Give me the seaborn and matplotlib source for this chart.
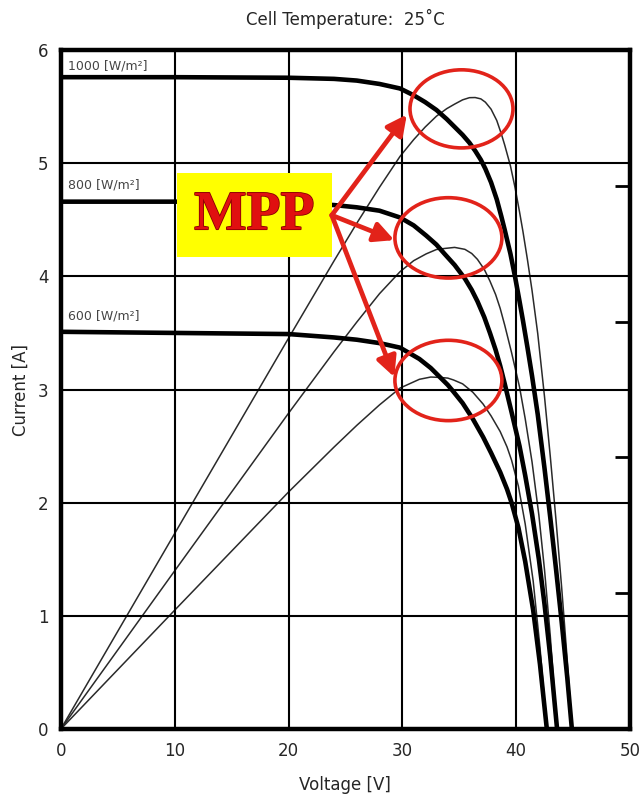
import numpy as np
import pandas as pd
import matplotlib.pyplot as plt
import matplotlib.patheffects as pe
import seaborn as sns
from matplotlib.patches import Ellipse, Rectangle

sns.set_style("white")
plt.rcParams['font.family'] = ['DejaVu Sans']

# I-V curves (Voltage in V, Current in A)
irradiance = ["1000 [W/m²]", "800 [W/m²]", "600 [W/m²]"]

v_1000 = [0, 10, 20, 24, 26, 28, 29.8, 31.0, 32.0, 33.0, 33.9, 34.6, 35.3, 35.9, 36.4, 36.9,
          37.3, 37.8, 38.3, 38.7, 39.0, 39.5, 39.9, 40.3, 40.6, 41.0, 41.4, 41.9, 42.5, 43.0,
          43.5, 44.0, 44.5, 44.9]
i_1000 = [5.76, 5.76, 5.755, 5.745, 5.73, 5.70, 5.66, 5.60, 5.54, 5.47, 5.39, 5.32, 5.25, 5.18,
          5.11, 5.03, 4.95, 4.83, 4.68, 4.53, 4.41, 4.20, 4.00, 3.78, 3.61, 3.37, 3.12, 2.78,
          2.30, 1.87, 1.42, 0.95, 0.45, 0.0]

v_800 = [0, 10, 20, 24, 26, 28, 29.8, 31.0, 32.1, 33.0, 33.7, 34.6, 35.5, 36.1, 36.6, 37.2,
         37.7, 38.2, 38.6, 39.0, 39.6, 40.3, 40.8, 41.4, 42.0, 42.5, 43.0, 43.6]
i_800 = [4.66, 4.66, 4.65, 4.63, 4.61, 4.58, 4.52, 4.45, 4.36, 4.28, 4.20, 4.10, 3.98, 3.88,
         3.78, 3.64, 3.50, 3.35, 3.21, 3.05, 2.80, 2.50, 2.24, 1.90, 1.50, 1.10, 0.64, 0.0]

v_600 = [0, 10, 20, 24, 26, 28, 29.8, 31.5, 32.5, 33.3, 34.0, 34.5, 35.3, 36.2, 37.1, 37.8,
         38.6, 39.2, 39.6, 40.2, 40.8, 41.5, 42.1, 42.7]
i_600 = [3.51, 3.50, 3.49, 3.46, 3.44, 3.41, 3.37, 3.27, 3.19, 3.11, 3.04, 2.98, 2.88, 2.74,
         2.58, 2.44, 2.27, 2.12, 2.00, 1.78, 1.48, 1.05, 0.57, 0.0]

label_y = [5.86, 4.81, 3.65]

# MPP annotation
mpp_centers = [(35.2, 5.48), (34.05, 4.34), (34.05, 3.08)]
mpp_sizes = [(9.05, 0.69), (9.4, 0.71), (9.4, 0.71)]
arrow_tips = [(30.4, 5.43), (29.3, 4.32), (29.3, 3.11)]
arrow_start = (23.8, 4.54)

frames = []
for name, v, i in zip(irradiance, [v_1000, v_800, v_600], [i_1000, i_800, i_600]):
    d = pd.DataFrame({"Voltage": v, "Current": i, "irr": name})
    d["Power"] = d["Voltage"] * d["Current"]
    frames.append(d)
df = pd.concat(frames, ignore_index=True)

fig = plt.figure(figsize=(6.41, 7.99), dpi=100)
ax = fig.add_axes([0.095, 0.0876, 0.8877, 0.8498])
ax2 = ax.twinx()

red = "#e2231a"

# thin P-V curves on the (cropped) power axis
sns.lineplot(data=df, x="Voltage", y="Power", hue="irr", palette=["#2a2a2a"] * 3,
             lw=1.1, legend=False, ax=ax2, estimator=None, sort=False)
ax2.set_ylim(0, 200)
ax2.set_yticks([40, 80, 120, 160])
ax2.tick_params(axis="y", direction="in", length=11, width=2, labelright=False, color="black")
for s in ax2.spines.values():
    s.set_visible(False)
ax2.set_ylabel("")

# thick I-V curves
sns.lineplot(data=df, x="Voltage", y="Current", hue="irr", palette=["black"] * 3,
             lw=3.3, legend=False, ax=ax, estimator=None, sort=False)
ax.set_xlim(0, 50)
ax.set_ylim(0, 6)
ax.set_xticks(range(0, 51, 10))
ax.set_yticks(range(0, 7))
ax.grid(True, color="black", lw=1.5)
ax.set_axisbelow(True)
for s in ax.spines.values():
    s.set_linewidth(3.2)
    s.set_color("black")
ax.tick_params(length=0, labelsize=12, pad=9)
ax.set_xlabel("Voltage [V]", fontsize=12, labelpad=12)
ax.set_ylabel("Current [A]", fontsize=12, labelpad=6)
ax.set_title("Cell Temperature:  25˚C", fontsize=12, pad=18, x=0.5)

for name, ly in zip(irradiance, label_y):
    ax.text(0.6, ly, name, fontsize=9, color="#444444", va="center", ha="left")

ax.set_zorder(ax2.get_zorder() + 1)
ax.patch.set_visible(False)
ax2.patch.set_visible(True)
ax2.patch.set_facecolor("white")

# MPP box, arrows and circles
ax.add_patch(Rectangle((10.2, 4.17), 13.6, 0.74, facecolor="#ffff00", edgecolor="none", zorder=5))
t = ax.text(17.0, 4.54, "MPP", fontsize=40, fontweight="bold", family="Liberation Serif",
            color="#e01010", ha="center", va="center", zorder=6)
t.set_path_effects([pe.withStroke(linewidth=1.2, foreground="#8a0000")])

for tip in arrow_tips:
    ax.annotate("", xy=tip, xytext=arrow_start, zorder=7,
                arrowprops=dict(arrowstyle="-|>", color=red, lw=3.4, mutation_scale=30,
                                shrinkA=0, shrinkB=0))
for c, (w, h) in zip(mpp_centers, mpp_sizes):
    ax.add_patch(Ellipse(c, w, h, fill=False, edgecolor=red, lw=2.6, zorder=7))

fig.savefig("out.png", dpi=100, facecolor="white")
